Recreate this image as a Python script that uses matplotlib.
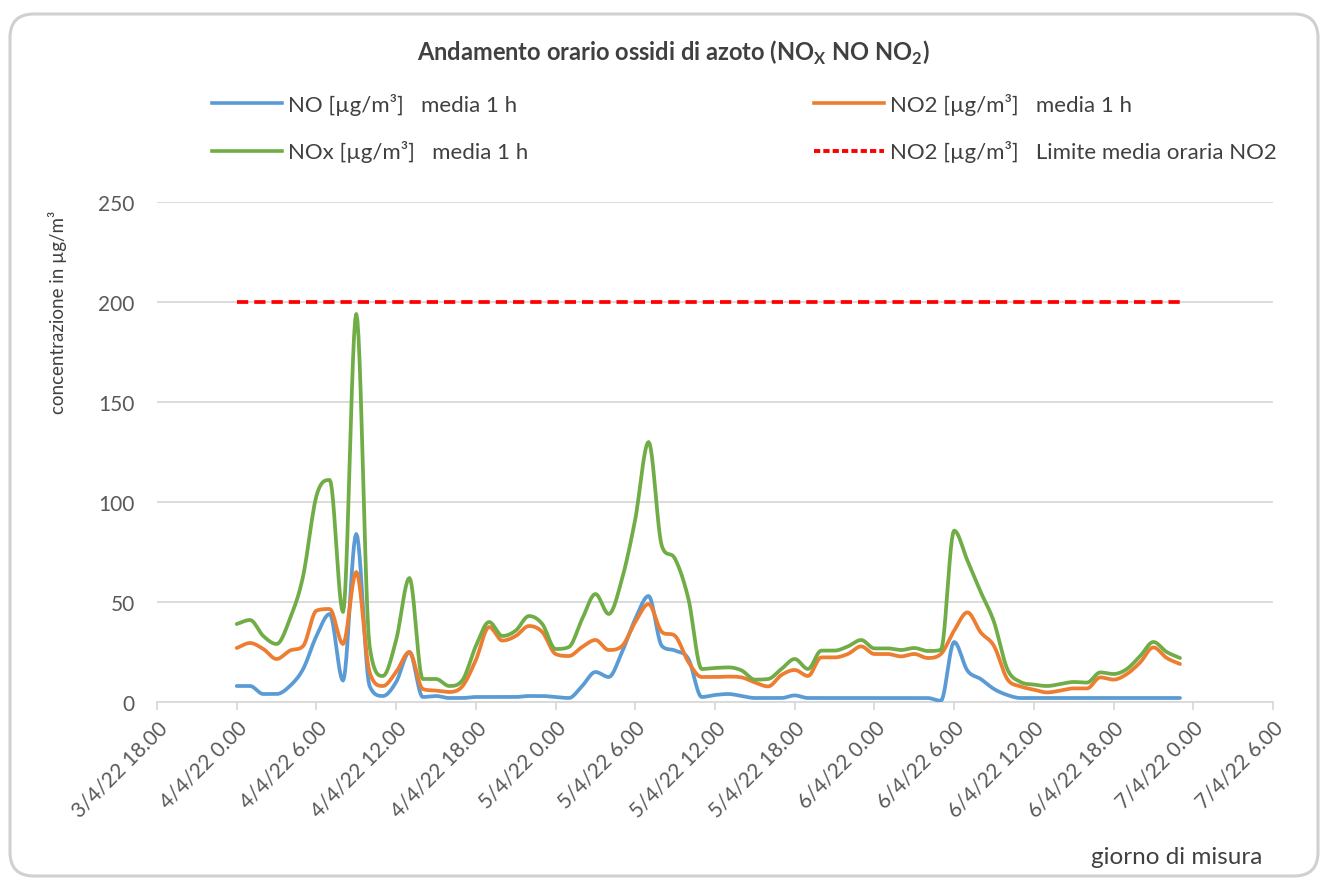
import matplotlib
matplotlib.use("Agg")
import matplotlib.pyplot as plt
from matplotlib.patches import FancyBboxPatch
from matplotlib.lines import Line2D
import numpy as np

plt.rcParams['font.family'] = ['Lato', 'DejaVu Sans']
plt.rcParams['mathtext.fontset'] = 'custom'
plt.rcParams['mathtext.rm'] = 'Lato'
plt.rcParams['mathtext.bf'] = 'Lato:bold'

# ore dal 4/4/22 0.00 (una misura ogni ora fino al 6/4/22 23.00)
ore = list(range(72))

no = [8, 8, 4, 4, 8, 16.5, 33, 44, 10.7, 84, 8, 3, 10, 25, 2.5, 3, 2, 2,
      2.5, 2.5, 2.5, 2.5, 3, 3, 2.5, 2, 8, 15, 12.5, 25, 41.5, 53, 28, 25.7, 21.5, 2.5,
      3.5, 4, 3, 2, 2, 2, 3.3, 2, 2, 2, 2, 2, 2, 2, 2, 2, 2, 0.6,
      30, 15.7, 11.5, 6.5, 3.5, 2, 2, 2, 2, 2, 2, 2, 2, 2, 2, 2, 2, 2]
no2 = [27, 29.5, 26.5, 21.5, 25.7, 28, 45.7, 46.5, 29, 65, 15, 8, 15, 25, 6.5, 5.7, 5, 8,
       21, 37.5, 30.7, 33, 38, 35, 24, 23, 27.5, 31, 26, 28, 40, 49, 35, 33, 20, 12.5,
       12.5, 12.7, 12.3, 9.8, 7.8, 13.5, 16, 13, 22.3, 22.3, 24, 27.8, 24, 24, 22.8, 24, 22, 24,
       35.7, 44.8, 34.8, 28, 11.5, 7.8, 6.2, 4.8, 5.7, 6.8, 6.8, 12.3, 11.2, 14, 19.8, 27.3, 22, 19]
nox = [39, 41, 33, 29, 41.5, 63, 103, 111, 45, 194, 28, 13, 31, 62, 11.5, 11.5, 8, 11,
       28, 40, 33, 35.7, 43, 39, 26.5, 27.5, 41.5, 54, 44, 61.5, 91.5, 130, 78, 71.5, 51.5, 16.5,
       17, 17.3, 15.8, 11.2, 11.5, 16.5, 21.5, 16.5, 25.7, 25.7, 27.8, 31, 26.8, 26.8, 26, 27, 25.5, 26,
       85.7, 70.7, 55, 40, 16.5, 10, 8.7, 8, 9, 10, 9.7, 14.8, 14, 16.5, 23, 30, 25, 22]
limite = [200] * 72

tick_ore = list(range(-6, 79, 6))
tick_lab = ["3/4/22 18.00", "4/4/22 0.00", "4/4/22 6.00", "4/4/22 12.00", "4/4/22 18.00",
            "5/4/22 0.00", "5/4/22 6.00", "5/4/22 12.00", "5/4/22 18.00", "6/4/22 0.00",
            "6/4/22 6.00", "6/4/22 12.00", "6/4/22 18.00", "7/4/22 0.00", "7/4/22 6.00"]


def smooth(x, y, n=12):
    # curva smussata (Catmull-Rom con tangenti limitate, niente sforamenti)
    x = np.asarray(x, float)
    y = np.asarray(y, float)
    d = np.diff(y)
    m = np.zeros_like(y)
    m[0], m[-1] = d[0], d[-1]
    for i in range(1, len(y) - 1):
        if d[i - 1] * d[i] <= 0:
            m[i] = 0.0
        else:
            m[i] = 0.5 * (d[i - 1] + d[i])
            lim = 3 * min(abs(d[i - 1]), abs(d[i]))
            m[i] = np.sign(m[i]) * min(abs(m[i]), lim)
    t = np.linspace(0, 1, n, endpoint=False)
    h00 = 2 * t ** 3 - 3 * t ** 2 + 1
    h10 = t ** 3 - 2 * t ** 2 + t
    h01 = -2 * t ** 3 + 3 * t ** 2
    h11 = t ** 3 - t ** 2
    xs, ys = [], []
    for i in range(len(y) - 1):
        xs.extend(x[i] + t * (x[i + 1] - x[i]))
        ys.extend(h00 * y[i] + h10 * m[i] + h01 * y[i + 1] + h11 * m[i + 1])
    xs.append(x[-1])
    ys.append(y[-1])
    return xs, ys


fig = plt.figure(figsize=(13.26, 8.79), dpi=100)
ax = fig.add_axes([157 / 1326, 1 - 703 / 879, (1273 - 157) / 1326, 500 / 879])

blu = "#5B9BD5"
arancio = "#ED7D31"
verde = "#70AD47"
rosso = "#FF0000"

ax.plot(*smooth(ore, no), color=blu, lw=2.7, solid_capstyle="round", zorder=3)
ax.plot(*smooth(ore, no2), color=arancio, lw=2.7, solid_capstyle="round", zorder=3)
ax.plot(*smooth(ore, nox), color=verde, lw=2.7, solid_capstyle="round", zorder=3)
ax.plot(ore, limite, color=rosso, lw=2.7, dashes=(3, 1.6), zorder=3)

ax.set_xlim(-6, 78)
ax.set_ylim(0, 250)
ax.set_yticks([0, 50, 100, 150, 200, 250])
ax.set_xticks(tick_ore)
ax.set_xticklabels(tick_lab, rotation=45, ha="right", rotation_mode="anchor")
ax.grid(axis="y", color="#D9D9D9", lw=1.3)
ax.set_axisbelow(True)
for s in ["top", "right", "left"]:
    ax.spines[s].set_visible(False)
ax.spines["bottom"].set_color("#D9D9D9")
ax.spines["bottom"].set_linewidth(1.3)
ax.tick_params(axis="y", length=0, labelsize=15, labelcolor="#595959", pad=16)
ax.tick_params(axis="x", length=6, color="#D9D9D9", width=1.3, labelsize=15,
               labelcolor="#595959", pad=5)

fig.text(673 / 1326, 1 - 53 / 879, r"Andamento orario ossidi di azoto (NO$_\mathbf{X}$ NO NO$_\mathbf{2}$)",
         ha="center", va="center", fontsize=17, fontweight="bold", color="#404040")
fig.text(58 / 1326, 1 - 312 / 879, "concentrazione in µg/m³", rotation=90,
         ha="center", va="center", fontsize=13.5, color="#404040")
fig.text(1262 / 1326, 1 - 858 / 879, "giorno di misura", ha="right", va="center",
         fontsize=17.5, color="#404040")

h_sx = [Line2D([], [], color=blu, lw=2.6), Line2D([], [], color=verde, lw=2.6)]
l_sx = ["NO [µg/m³]   media 1 h", "NOx [µg/m³]   media 1 h"]
h_dx = [Line2D([], [], color=arancio, lw=2.6),
        Line2D([], [], color=rosso, lw=2.8, dashes=(1.6, 0.8))]
l_dx = ["NO2 [µg/m³]   media 1 h", "NO2 [µg/m³]   Limite media oraria NO2"]
stile = dict(loc="center left", frameon=False, fontsize=16, handlelength=3.15,
             handletextpad=0.27, labelspacing=1.15, labelcolor="#404040",
             borderaxespad=0, borderpad=0)
leg1 = fig.legend(h_sx, l_sx, bbox_to_anchor=(212 / 1326, 1 - 128.5 / 879), **stile)
leg2 = fig.legend(h_dx, l_dx, bbox_to_anchor=(814 / 1326, 1 - 128.5 / 879), **stile)

bordo = FancyBboxPatch((10 / 1326, 2 / 879), 1308 / 1326, 862 / 879,
                       boxstyle="round,pad=0,rounding_size=0.018",
                       transform=fig.transFigure, fill=False, ec="#D0D0D0", lw=2.2,
                       mutation_aspect=1326 / 879)
fig.patches.append(bordo)

fig.savefig("out.png", dpi=100)
